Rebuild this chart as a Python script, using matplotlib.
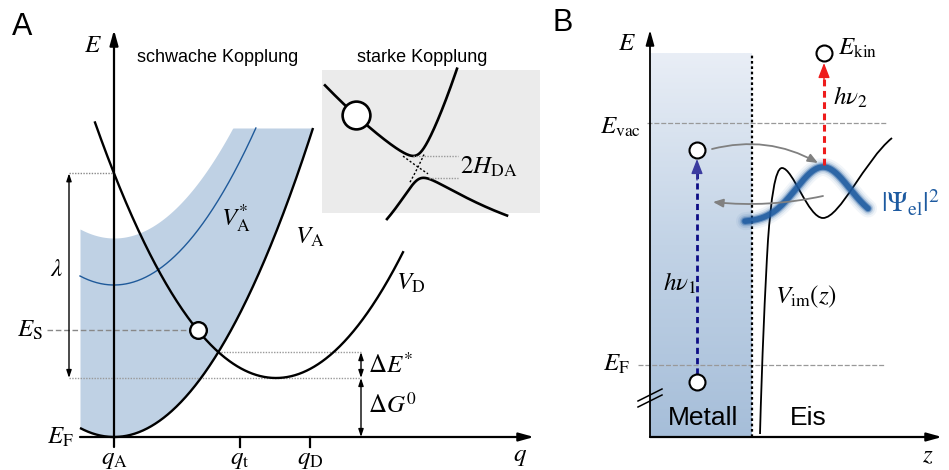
import numpy as np
import matplotlib
matplotlib.use('Agg')
import matplotlib.pyplot as plt
from matplotlib.path import Path
from matplotlib.patches import PathPatch
from matplotlib.colors import LinearSegmentedColormap

plt.rcParams['font.family'] = ['Liberation Sans', 'DejaVu Sans']
plt.rcParams['mathtext.fontset'] = 'stix'

# ---------------- Panel A: Marcus parabolas (q: coordinate, E: energy, E_F = 0) -------------
q_range = [-0.34, 4.20]          # drawn extent of q axis
E_axis_top = 4.07
curv = 0.78                      # parabola curvature
VA_min = 0.0                     # V_A minimum (at q_A)
VAstar_min = 1.52                # V_A* minimum
band_min = 1.99                  # upper edge of broadened band
E_cut = 3.09                     # top of band / curves
qD0 = 1.62                       # minimum of V_D
dG0 = 0.59                       # Delta G^0
q_VD = [-0.19, 2.89]             # drawn range of V_D
E_S = 1.07
q_ticks = [0.0, 1.26, 1.96]
q_tick_labels = [r'$q_{\mathrm{A}}$', r'$q_{\mathrm{t}}$', r'$q_{\mathrm{D}}$']
q_lambda = -0.45
q_dE = 2.47

# inset (strong coupling): local coordinates around crossing
u_upper = [-93, 39]
u_lower = [-31, 89]
H_DA = 12.5
V1_coef = [-0.70, 0.0018]
V2_coef = [2.0, 0.0125]

# ---------------- Panel B: image potential states ----------------
z_metal = 1.02
E_metal_top = 3.84
E_vac = 3.14
E_F_B = 0.72
z_el = 0.47
E_el = [0.55, 2.87]
z_kin = 1.74
E_kin = 3.84
psi_center, psi_amp, psi_base, psi_width = 1.73, 0.55, 2.15, 0.38
psi_range = [0.95, 2.18]
vim_nodes = [(1.10, 0.03), (1.12, 0.77), (1.15, 1.47), (1.18, 1.97),
             (1.21, 2.37), (1.25, 2.69), (1.32, 2.69),
             (1.43, 2.69), (1.58, 2.19), (1.73, 2.19),
             (1.90, 2.19), (2.15, 2.77), (2.42, 2.99)]

W, H = 949, 470
fig = plt.figure(figsize=(W / 100, H / 100), dpi=100)

# ====================== Panel A ======================
axA = fig.add_axes([0, 0, 580 / W, 1])
axA.set_xlim(-1.14, 4.66)
axA.set_ylim(-0.33, 4.37)
axA.axis('off')

band_blue = '#bfd1e4'
q = np.linspace(q_range[0], np.sqrt(E_cut / curv), 400)
VA = VA_min + curv * q ** 2
upper = np.minimum(band_min + curv * q ** 2, E_cut)
axA.fill_between(q, VA, upper, color=band_blue, lw=0, zorder=1)
axA.plot(q, VA, color='black', lw=1.7, zorder=4, solid_capstyle='butt')

qs = np.linspace(q_range[0], np.sqrt((E_cut - VAstar_min) / curv), 300)
axA.plot(qs, VAstar_min + curv * qs ** 2, color='#1f5a9a', lw=1.0, zorder=3)

qd = np.linspace(q_VD[0], q_VD[1], 400)
axA.plot(qd, dG0 + curv * (qd - qD0) ** 2, color='black', lw=1.7, zorder=4)

# crossing point of V_A and V_D
q_cross = (dG0 + curv * qD0 ** 2) / (2 * curv * qD0)
E_cross = curv * q_cross ** 2
E_lam_top = dG0 + curv * qD0 ** 2

# E_S point
q_S = qD0 - np.sqrt((E_S - dG0) / curv)
axA.plot([-0.67, q_S], [E_S, E_S], color='#888888', lw=1.0, ls=(0, (4, 2)), zorder=2)
axA.plot(q_S, E_S, 'o', ms=12, mfc='white', mec='black', mew=1.7, zorder=6)

# dotted guide lines
axA.plot([q_lambda, 0], [E_lam_top, E_lam_top], color='#888888', lw=1.0, ls=(0, (1, 1)), zorder=2)
axA.plot([q_lambda, q_dE], [dG0, dG0], color='#999999', lw=1.0, ls=(0, (1, 1)), zorder=2)
axA.plot([q_cross, q_dE], [E_cross, E_cross], color='#999999', lw=1.0, ls=(0, (1, 1)), zorder=2)

arr_small = dict(arrowstyle='<|-|>,head_length=0.45,head_width=0.15', color='black', lw=1.0,
                 shrinkA=0, shrinkB=0)
axA.annotate('', xy=(q_lambda, E_lam_top), xytext=(q_lambda, dG0), arrowprops=arr_small)
axA.annotate('', xy=(q_dE, E_cross), xytext=(q_dE, dG0), arrowprops=arr_small)
axA.annotate('', xy=(q_dE, dG0), xytext=(q_dE, 0), arrowprops=arr_small)

# axes
arr_axis = dict(arrowstyle='-|>,head_length=0.9,head_width=0.25', color='black', lw=1.6,
                shrinkA=0, shrinkB=0)
axA.annotate('', xy=(q_range[1], 0), xytext=(q_range[0], 0), arrowprops=arr_axis, zorder=5)
axA.annotate('', xy=(0, E_axis_top), xytext=(0, -0.1), arrowprops=arr_axis, zorder=5)
for qt in q_ticks[1:]:
    axA.plot([qt, qt], [0, -0.1], color='black', lw=1.6)
fs_m = 18
for qt, lab in zip(q_ticks, q_tick_labels):
    axA.text(qt, -0.22, lab, fontsize=fs_m, ha='center', va='center')

axA.text(-0.21, 3.92, r'$E$', fontsize=fs_m, ha='center', va='center')
axA.text(4.06, -0.19, r'$q$', fontsize=fs_m, ha='center', va='center')
axA.text(-0.54, 0.0, r'$E_{\mathrm{F}}$', fontsize=fs_m, ha='center', va='center')
axA.text(-0.84, E_S, r'$E_{\mathrm{S}}$', fontsize=fs_m, ha='center', va='center')
axA.text(-0.57, 1.68, r'$\lambda$', fontsize=fs_m, ha='center', va='center')
axA.text(1.22, 2.19, r'$V_{\mathrm{A}}^{*}$', fontsize=fs_m, ha='center', va='center')
axA.text(1.96, 2.0, r'$V_{\mathrm{A}}$', fontsize=fs_m, ha='center', va='center')
axA.text(2.97, 1.54, r'$V_{\mathrm{D}}$', fontsize=fs_m, ha='center', va='center')
axA.text(2.54, 0.72, r'$\Delta E^{*}$', fontsize=fs_m, ha='left', va='center')
axA.text(2.54, 0.32, r'$\Delta G^{0}$', fontsize=fs_m, ha='left', va='center')
axA.text(1.04, 3.79, 'schwache Kopplung', fontsize=13, ha='center', va='center')
axA.text(3.08, 3.79, 'starke Kopplung', fontsize=13, ha='center', va='center')
axA.text(-0.92, 4.10, 'A', fontsize=22, ha='center', va='center')
axA.text(4.49, 4.14, 'B', fontsize=22, ha='center', va='center')

# ---------------- inset: strong coupling ----------------
axI = fig.add_axes([322 / W, (H - 213) / H, 218 / W, 143 / H])
axI.set_xlim(-96, 122)
axI.set_ylim(-46, 97)
axI.set_facecolor('#ebebeb')
for s in axI.spines.values():
    s.set_visible(False)
axI.set_xticks([])
axI.set_yticks([])


def V1(u):
    return V1_coef[0] * u + V1_coef[1] * u ** 2


def V2(u):
    return V2_coef[0] * u + V2_coef[1] * u ** 2


uu = np.linspace(u_upper[0], u_upper[1], 400)
up = (V1(uu) + V2(uu)) / 2 + np.sqrt(((V1(uu) - V2(uu)) / 2) ** 2 + H_DA ** 2)
ul = np.linspace(u_lower[0], u_lower[1], 400)
lo = (V1(ul) + V2(ul)) / 2 - np.sqrt(((V1(ul) - V2(ul)) / 2) ** 2 + H_DA ** 2)
axI.plot(uu, up, color='black', lw=1.9, clip_on=False)
axI.plot(ul, lo, color='black', lw=1.9, clip_on=False)
ud1 = np.linspace(-15, 10, 20)
axI.plot(ud1, V1(ud1), color='black', lw=1.0, ls=(0, (1.5, 1.5)))
ud2 = np.linspace(-8, 6, 20)
axI.plot(ud2, V2(ud2), color='black', lw=1.0, ls=(0, (1.5, 1.5)))
axI.plot([uu[np.argmin(np.where(uu < 20, up, 1e9))], 40], [up[uu < 20].min()] * 2,
         color='#999999', lw=1.0, ls=(0, (1, 1)))
axI.plot([ul[np.argmax(np.where(ul > -20, lo, -1e9))] + 6, 40], [lo[ul > -20].max()] * 2,
         color='#999999', lw=1.0, ls=(0, (1, 1)))
u_c = -62
axI.plot(u_c, (V1(u_c) + V2(u_c)) / 2 + np.sqrt(((V1(u_c) - V2(u_c)) / 2) ** 2 + H_DA ** 2),
         'o', ms=20, mfc='white', mec='black', mew=1.9, zorder=5)
axI.text(42, 0, r'$2H_{\mathrm{DA}}$', fontsize=fs_m, ha='left', va='center')

# ====================== Panel B ======================
axB = fig.add_axes([580 / W, 0, 369 / W, 1])
axB.axis('off')

cmap = LinearSegmentedColormap.from_list('metal', ['#a6bed9', '#c2d3e6', '#e9eef6'])
grad = np.linspace(0, 1, 256).reshape(-1, 1)
axB.imshow(grad, extent=[0, z_metal, 0, E_metal_top], origin='lower', aspect='auto',
           cmap=cmap, zorder=0)
axB.set_xlim(-0.70, 2.99)
axB.set_ylim(-0.33, 4.37)

axB.plot([z_metal, z_metal], [0, E_metal_top], color='black', lw=1.6, ls=(0, (1.2, 1.2)), zorder=3)

axB.plot([-0.03, 2.37], [E_vac, E_vac], color='#999999', lw=0.9, ls=(0, (4, 1.5)), zorder=2)
axB.plot([-0.12, 2.35], [E_F_B, E_F_B], color='#999999', lw=0.9, ls=(0, (4, 1.5)), zorder=2)

# image potential
codes = [Path.MOVETO] + [Path.CURVE4] * (len(vim_nodes) - 1)
axB.add_patch(PathPatch(Path(vim_nodes, codes), fc='none', ec='black', lw=1.3, zorder=4))

# wavefunction with glow
zp = np.linspace(psi_range[0], psi_range[1], 300)
psi = psi_base + psi_amp * np.exp(-((zp - psi_center) / psi_width) ** 2)
for lw, a in [(13, 0.06), (10, 0.1), (7.5, 0.2), (5.5, 0.45), (4, 0.8)]:
    axB.plot(zp, psi, color='#1d5aa0', lw=lw, alpha=a, solid_capstyle='round', zorder=5)
axB.text(2.31, 2.34, r'$|\Psi_{\mathrm{el}}|^2$', fontsize=20, color='#1d5aa0',
         ha='left', va='center')

# photon arrows
axB.plot([z_el, z_el], [E_el[0] + 0.08, E_el[1] - 0.2], color='#0d0d85', lw=2.0,
         ls=(0, (2.2, 1.5)), zorder=5)
axB.annotate('', xy=(z_el, E_el[1] - 0.09), xytext=(z_el, E_el[1] - 0.3),
             arrowprops=dict(arrowstyle='-|>,head_length=0.9,head_width=0.35', color='#3c3ca0',
                             lw=1.0, shrinkA=0, shrinkB=0), zorder=6)
axB.plot([z_kin, z_kin], [2.72, E_kin - 0.2], color='#ee1c1c', lw=2.2,
         ls=(0, (2.2, 1.5)), zorder=5)
axB.annotate('', xy=(z_kin, E_kin - 0.1), xytext=(z_kin, E_kin - 0.32),
             arrowprops=dict(arrowstyle='-|>,head_length=0.9,head_width=0.35', color='#ee1c1c',
                             lw=1.0, shrinkA=0, shrinkB=0), zorder=6)

for zz, ee in [(z_el, E_el[0]), (z_el, E_el[1]), (z_kin, E_kin)]:
    axB.plot(zz, ee, 'o', ms=11.5, mfc='white', mec='black', mew=1.5, zorder=7)

# transfer arrows
gray_arr = dict(arrowstyle='-|>,head_length=0.6,head_width=0.25', color='#808080', lw=1.3,
                shrinkA=0, shrinkB=0)
gray_arr1 = dict(gray_arr, connectionstyle='arc3,rad=-0.2')
gray_arr2 = dict(gray_arr, connectionstyle='arc3,rad=-0.08')
axB.annotate('', xy=(1.68, 2.74), xytext=(0.62, 2.88), arrowprops=gray_arr1, zorder=6)
axB.annotate('', xy=(0.63, 2.35), xytext=(1.73, 2.41), arrowprops=gray_arr2, zorder=6)

# axes
axB.annotate('', xy=(0, E_axis_top), xytext=(0, 0), arrowprops=dict(arr_axis, lw=1.3), zorder=5)
axB.annotate('', xy=(2.92, 0), xytext=(0, 0), arrowprops=dict(arr_axis, lw=1.6), zorder=5)
# axis break
axB.plot([-0.12, 0.12], [0.36, 0.48], color='black', lw=1.1, zorder=6)
axB.plot([-0.12, 0.12], [0.30, 0.42], color='black', lw=1.1, zorder=6)

axB.text(-0.23, 3.94, r'$E$', fontsize=fs_m, ha='center', va='center')
axB.text(2.78, -0.18, r'$z$', fontsize=fs_m, ha='center', va='center')
axB.text(-0.30, 3.10, r'$E_{\mathrm{vac}}$', fontsize=fs_m, ha='center', va='center')
axB.text(-0.34, 0.73, r'$E_{\mathrm{F}}$', fontsize=fs_m, ha='center', va='center')
axB.text(1.88, 3.89, r'$E_{\mathrm{kin}}$', fontsize=fs_m, ha='left', va='center')
axB.text(1.83, 3.40, r'$h\nu_2$', fontsize=fs_m, ha='left', va='center')
axB.text(0.46, 1.54, r'$h\nu_1$', fontsize=fs_m, ha='right', va='center')
axB.text(1.25, 1.40, r'$V_{\mathrm{im}}(z)$', fontsize=fs_m, ha='left', va='center')
axB.text(0.53, 0.19, 'Metall', fontsize=19, ha='center', va='center')
axB.text(1.58, 0.19, 'Eis', fontsize=19, ha='center', va='center')

fig.savefig('out.png', dpi=100)
